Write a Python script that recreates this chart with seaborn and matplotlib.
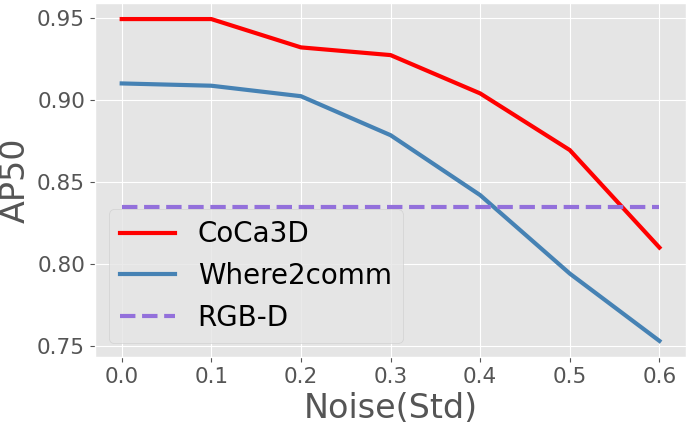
import numpy as np
import pandas as pd

import matplotlib
matplotlib.use('Agg')
import matplotlib.pyplot as plt
import seaborn as sns

# Values.
noise = [0.0, 0.1, 0.2, 0.3, 0.4, 0.5, 0.6]
coca3d = [0.9496, 0.9496, 0.9323, 0.9276, 0.9042, 0.8696, 0.8101]
where2comm = [0.9103, 0.9089, 0.9025, 0.8787, 0.8421, 0.7942, 0.7531]
rgbd = [0.8347] * len(noise)

df = pd.DataFrame({
    'noise': noise,
    'CoCa3D': coca3d,
    'Where2comm': where2comm,
    'RGB-D': rgbd,
})

plt.style.use('ggplot')

fig = plt.figure(figsize=(6.87, 4.24), dpi=100)
ax = fig.add_axes([0.138, 0.158, 0.861, 0.835])

sns.lineplot(data=df, x='noise', y='CoCa3D', color='red', linewidth=3,
             label='CoCa3D', ax=ax)
sns.lineplot(data=df, x='noise', y='Where2comm', color='steelblue', linewidth=3,
             label='Where2comm', ax=ax)
sns.lineplot(data=df, x='noise', y='RGB-D', color='mediumpurple', linewidth=3,
             linestyle='--', label='RGB-D', ax=ax)

ax.set_xlabel('Noise(Std)', fontsize=24, color='#555555')
ax.set_ylabel('AP50', fontsize=24, color='#555555')
ax.set_xticks(noise)
ax.set_yticks([0.75, 0.80, 0.85, 0.90, 0.95])
ax.tick_params(labelsize=15.5, colors='#555555')

ax.legend(loc='lower left', fontsize=20)

fig.savefig('out.png', dpi=100)
